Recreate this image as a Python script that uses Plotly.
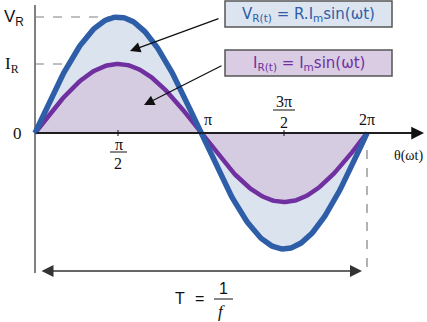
import numpy as np
import plotly.graph_objects as go

# ---- data ----
theta_ticks = [np.pi / 2, np.pi, 3 * np.pi / 2, 2 * np.pi]
tick_labels_top = ["π", "3π", "2π"]
V_peak = [1.0]          # voltage amplitude (relative)
I_peak = [0.595]        # current amplitude (relative)
n_samples = [241]

theta = np.linspace(0, 2 * np.pi, n_samples[0])
v = V_peak[0] * np.sin(theta)
i = I_peak[0] * np.sin(theta)

# ---- pixel <-> data mapping ----
W, H = 427, 322
X0, Y0 = 35, 133
PPR = 166 / np.pi      # pixels per radian
PPU = 116              # pixels per unit amplitude


def dx(px):
    return (px - X0) / PPR


def dy(py):
    return (Y0 - py) / PPU


BLUE = "#2E5EA7"
PURPLE = "#7030A0"
BLUE_FILL = "#DBE3EF"
PURP_FILL = "#D5CCE1"

fig = go.Figure()
fig.add_trace(go.Scatter(x=theta, y=v, fill="tozeroy", fillcolor=BLUE_FILL,
                         mode="none", hoverinfo="skip"))
fig.add_trace(go.Scatter(x=theta, y=i, fill="tozeroy", fillcolor=PURP_FILL,
                         mode="none", hoverinfo="skip"))
# vertical axis (gray)
fig.add_trace(go.Scatter(x=[0, 0], y=[dy(5), dy(273)], mode="lines",
                         line=dict(color="#808080", width=2), hoverinfo="skip"))
# horizontal axis (black)
fig.add_trace(go.Scatter(x=[0, dx(414)], y=[0, 0], mode="lines",
                         line=dict(color="#111111", width=1.5), hoverinfo="skip"))
fig.add_trace(go.Scatter(x=theta, y=i, mode="lines",
                         line=dict(color=PURPLE, width=4.5), hoverinfo="skip"))
fig.add_trace(go.Scatter(x=theta, y=v, mode="lines",
                         line=dict(color=BLUE, width=5.5), hoverinfo="skip"))

shapes = []
dash = dict(color="#808080", width=1.2, dash="dash")
shapes.append(dict(type="line", xref="x", yref="y", x0=0, x1=np.pi / 2,
                   y0=V_peak[0], y1=V_peak[0], line=dash, layer="below"))
shapes.append(dict(type="line", xref="x", yref="y", x0=0, x1=np.pi / 2,
                   y0=I_peak[0], y1=I_peak[0], line=dash, layer="below"))
shapes.append(dict(type="line", xref="x", yref="y", x0=2 * np.pi, x1=2 * np.pi,
                   y0=dy(150), y1=dy(268), line=dash, layer="below"))
# ticks
for t in [np.pi / 2, 3 * np.pi / 2]:
    shapes.append(dict(type="line", xref="x", yref="y", x0=t, x1=t,
                       y0=dy(130), y1=dy(136), line=dict(color="#111", width=1)))
# fraction bars
shapes.append(dict(type="line", xref="x", yref="y", x0=dx(110), x1=dx(127),
                   y0=dy(152), y1=dy(152), line=dict(color="#111", width=1)))
shapes.append(dict(type="line", xref="x", yref="y", x0=dx(273), x1=dx(295),
                   y0=dy(110), y1=dy(110), line=dict(color="#111", width=1)))
shapes.append(dict(type="line", xref="x", yref="y", x0=dx(214), x1=dx(233),
                   y0=dy(299), y1=dy(299), line=dict(color="#111", width=1)))
# boxes
shapes.append(dict(type="rect", xref="x", yref="y", x0=dx(225), x1=dx(392),
                   y0=dy(1), y1=dy(27), fillcolor="#DCE4F0",
                   line=dict(color="#555555", width=1.5)))
shapes.append(dict(type="rect", xref="x", yref="y", x0=dx(225), x1=dx(392),
                   y0=dy(50), y1=dy(76), fillcolor="#D9CCE3",
                   line=dict(color="#555555", width=1.5)))

ann = []
serif = "Liberation Serif"
sans = "DejaVu Sans"


def txt(px, py, s, size=15, color="#111", family=serif, xanchor="center"):
    ann.append(dict(x=dx(px), y=dy(py), xref="x", yref="y", text=s,
                    showarrow=False, font=dict(size=size, color=color, family=family),
                    xanchor=xanchor, yanchor="middle"))


txt(118.5, 144, "π", size=16)
txt(118, 163, "2", size=16)
txt(284, 101, "3π", size=16)
txt(284, 122, "2", size=16)
txt(208, 119, "π", size=16)
txt(367, 119, "2π", size=16)
txt(392, 156, "θ(ωt)", size=14, xanchor="left")
txt(17, 133, "0", size=17)
txt(2, 18, "V<sub>R</sub>", size=17, family="Liberation Sans", xanchor="left")
txt(3, 65, "I<sub>R</sub>", size=17, xanchor="left")
txt(180, 298, "T", size=16, family="Liberation Sans")
txt(199, 298, "=", size=16, family="Liberation Sans")
txt(223, 288, "1", size=16, family="Liberation Sans")
txt(221, 311, "<i>f</i>", size=17)
txt(308.5, 14, "V<sub>R(t)</sub> = R.I<sub>m</sub>sin(ωt)", size=15, color=BLUE, family=sans)
txt(308.5, 63, "I<sub>R(t)</sub> = I<sub>m</sub>sin(ωt)", size=15, color=PURPLE, family=sans)


def arrow(x1, y1, x2, y2, side="end", color="#111", size=1.6, width=1.3):
    ann.append(dict(x=dx(x2), y=dy(y2), ax=dx(x1), ay=dy(y1), xref="x", yref="y",
                    axref="x", ayref="y", text="", showarrow=True, arrowhead=2,
                    arrowside=side, arrowsize=size, arrowwidth=width,
                    arrowcolor=color, startarrowhead=2, startarrowsize=size))


arrow(220, 18, 130, 51)
arrow(223, 65, 144, 105)
arrow(X0, 133, 424, 133, size=1.7, width=1.5)
arrow(40, 271, 362, 271, side="end+start", color="#333", size=1.6, width=1.5)

fig.update_layout(
    width=W, height=H, margin=dict(l=0, r=0, t=0, b=0),
    paper_bgcolor="white", plot_bgcolor="white", showlegend=False,
    shapes=shapes, annotations=ann,
    xaxis=dict(range=[dx(0), dx(W)], visible=False, fixedrange=True),
    yaxis=dict(range=[dy(H), dy(0)], visible=False, fixedrange=True),
)
fig.write_html("out.html")
